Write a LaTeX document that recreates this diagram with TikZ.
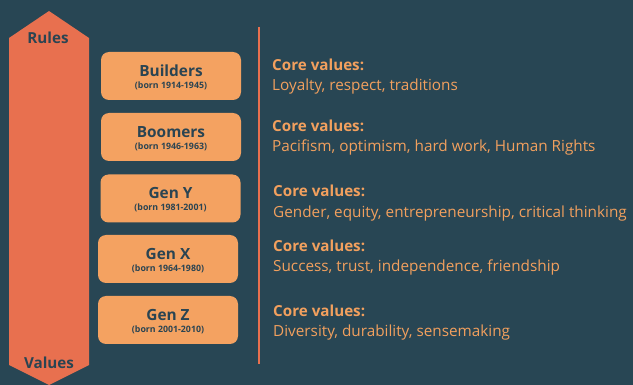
\documentclass[tikz,border=0pt]{standalone}
\usepackage{fontspec}
\setmainfont{Open Sans}
\usetikzlibrary{calc}
\definecolor{bg}{HTML}{284654}
\definecolor{arrowc}{HTML}{E8704F}
\definecolor{boxc}{HTML}{F4A261}
\definecolor{txtc}{HTML}{F2A05E}
\definecolor{ink}{HTML}{2A4452}
\tikzset{
  genbox/.style={fill=boxc, draw=none, rounded corners=8pt, minimum width=140pt,
    minimum height=48pt, inner sep=0pt, align=center, text=ink},
  genname/.style={font=\fontsize{15.4}{15}\selectfont\bfseries, text=ink, inner sep=0pt, anchor=base},
  genyears/.style={font=\fontsize{8.8}{9}\selectfont\bfseries, text=ink, inner sep=0pt, anchor=base},
  corehead/.style={font=\fontsize{15.2}{16}\selectfont\bfseries, text=txtc, inner sep=0pt, anchor=base west},
  coretext/.style={font=\fontsize{15.3}{16}\selectfont, text=txtc, inner sep=0pt, anchor=base west},
  axislabel/.style={font=\fontsize{15.2}{16}\selectfont\bfseries, text=ink, inner sep=0pt, anchor=base},
}
\begin{document}
\begin{tikzpicture}[x=1pt,y=-1pt]
  % background
  \fill[bg] (0,0) rectangle (633,385);
  \useasboundingbox (0,0) rectangle (633,385);

  % double-headed scale arrow
  \fill[arrowc] (49,11) -- (89,38) -- (89,365) -- (49,385) -- (9,365) -- (9,38) -- cycle;
  \node[axislabel] (rules) at (48,44) {Rules};
  \node[axislabel] (values) at (49,369) {Values};

  % separator line
  \coordinate (lt) at (259,27);
  \coordinate (lb) at (259,364);
  \draw[arrowc, line width=2pt] (lt) -- (lb);

  % generation boxes
  \node[genbox] (b1) at (171,76) {};
  \node[genbox] (b2) at (171,137) {};
  \node[genbox] (b3) at (170.5,198.5) {};
  \node[genbox] (b4) at (168,259) {};
  \node[genbox] (b5) at (168,320) {};

  \node[genname] (b1n) at ($(b1.center)+(0,0.5)$) {Builders};
  \node[genyears] (b1y) at ($(b1.center)+(0,12.5)$) {(born 1914-1945)};
  \node[genname] (b2n) at ($(b2.center)+(0,0.5)$) {Boomers};
  \node[genyears] (b2y) at ($(b2.center)+(0,12.5)$) {(born 1946-1963)};
  \node[genname] (b3n) at ($(b3.center)+(0,0.5)$) {Gen Y};
  \node[genyears] (b3y) at ($(b3.center)+(0,12.5)$) {(born 1981-2001)};
  \node[genname] (b4n) at ($(b4.center)+(0,0.5)$) {Gen X};
  \node[genyears] (b4y) at ($(b4.center)+(0,12.5)$) {(born 1964-1980)};
  \node[genname] (b5n) at ($(b5.center)+(0,0.5)$) {Gen Z};
  \node[genyears] (b5y) at ($(b5.center)+(0,12.5)$) {(born 2001-2010)};

  % core values
  \node[corehead] (c1h) at (272,71) {Core values:};
  \node[coretext] (c1t) at (272,91) {Loyalty, respect, traditions};
  \node[corehead] (c2h) at (272,131.5) {Core values:};
  \node[coretext] (c2t) at (272,151.5) {Pacifism, optimism, hard work, Human Rights};
  \node[corehead] (c3h) at (273,197) {Core values:};
  \node[coretext] (c3t) at (273,218) {Gender, equity, entrepreneurship, critical thinking};
  \node[corehead] (c4h) at (273,251.5) {Core values:};
  \node[coretext] (c4t) at (273,271.5) {Success, trust, independence, friendship};
  \node[corehead] (c5h) at (273,316.5) {Core values:};
  \node[coretext] (c5t) at (273,336.5) {Diversity, durability, sensemaking};
\end{tikzpicture}
\end{document}
